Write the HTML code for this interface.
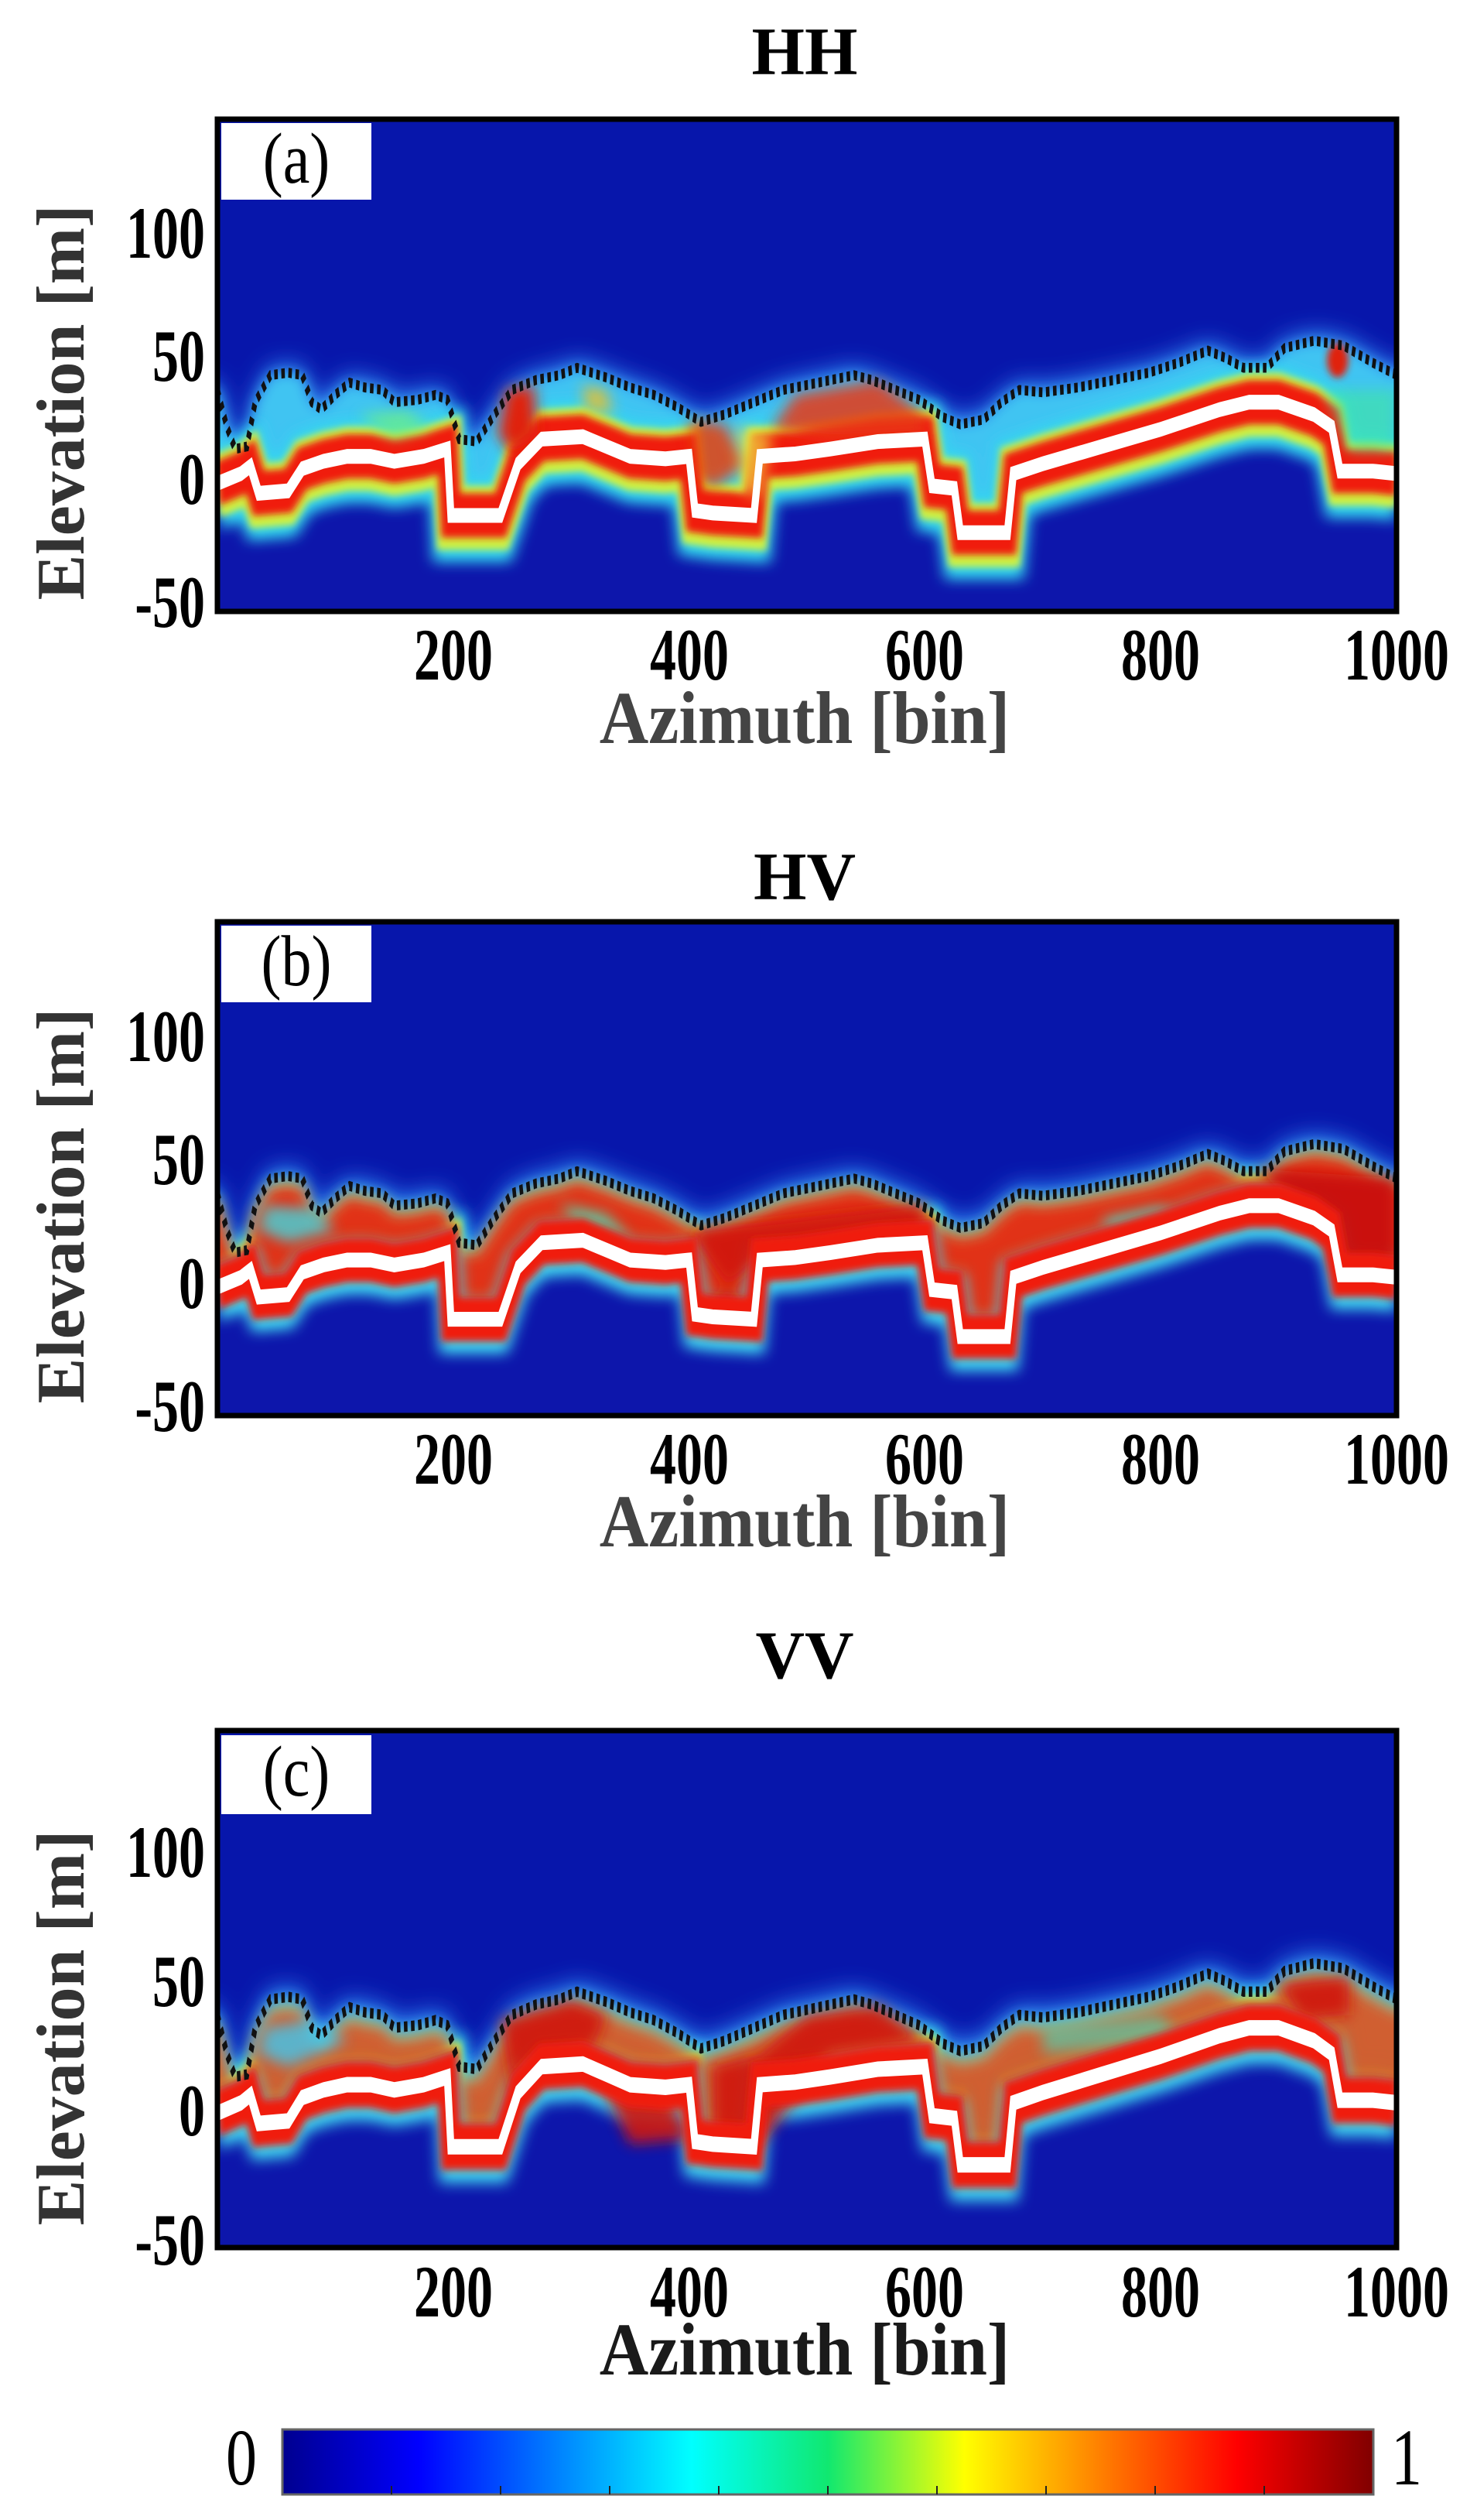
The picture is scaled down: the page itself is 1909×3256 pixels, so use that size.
<!DOCTYPE html>
<html><head><meta charset="utf-8"><style>
html,body{margin:0;padding:0;background:#fff}
svg{display:block}
text{font-family:"Liberation Serif",serif}
</style></head><body>
<svg width="1909" height="3256" viewBox="0 0 1909 3256" xmlns="http://www.w3.org/2000/svg">
<defs>
<clipPath id="clip"><rect x="0" y="-50" width="1000" height="200"/></clipPath>
<filter id="b1" filterUnits="userSpaceOnUse" x="-100" y="-120" width="1200" height="320"><feGaussianBlur stdDeviation="10 4.5"/></filter>
<filter id="b2" filterUnits="userSpaceOnUse" x="-100" y="-120" width="1200" height="320"><feGaussianBlur stdDeviation="6 2.7"/></filter>
<filter id="b3" filterUnits="userSpaceOnUse" x="-100" y="-120" width="1200" height="320"><feGaussianBlur stdDeviation="3 1.4"/></filter>
<polyline id="C" points="0,40 8,25 15,16 25,17 32,35 45,46 60,47 72,46 80,35 88,32 100,38 112,43 125,41 140,40 150,35 170,36 185,38 195,36 205,20 220,19 235,30 250,40 270,44 290,46 305,49 330,45 350,41 370,38 390,33 410,27 430,30 450,34 480,40 510,43 540,46 555,44 575,40 595,36 615,29 630,26 650,28 665,35 680,40 700,39 730,41 760,44 790,47 815,51 840,56 855,53 870,49 890,49 905,57 930,60 955,58 980,51 1000,46"/>
<polyline id="G" points="0,2 20,6 28,9 35,-2 60,-1 72,8 90,11 110,13 130,13 150,11 175,13 195,16 198,-11 240,-11 255,10 275,20 310,21 330,17 350,13 380,12 400,13 405,-9 420,-10 455,-11 460,13 490,14 520,16 560,19 600,20 606,1 625,0 630,-18 670,-18 675,6 700,10 750,17 800,24 850,32 875,35 900,35 930,30 945,25 952,7 980,7 1000,6"/>
<polygon id="Cf" points="-20,40 0,40 8,25 15,16 25,17 32,35 45,46 60,47 72,46 80,35 88,32 100,38 112,43 125,41 140,40 150,35 170,36 185,38 195,36 205,20 220,19 235,30 250,40 270,44 290,46 305,49 330,45 350,41 370,38 390,33 410,27 430,30 450,34 480,40 510,43 540,46 555,44 575,40 595,36 615,29 630,26 650,28 665,35 680,40 700,39 730,41 760,44 790,47 815,51 840,56 855,53 870,49 890,49 905,57 930,60 955,58 980,51 1000,46 1020,46 1020,-80 -20,-80"/>
<polygon id="Gf" points="-20,2 0,2 20,6 28,9 35,-2 60,-1 72,8 90,11 110,13 130,13 150,11 175,13 195,16 198,-11 240,-11 255,10 275,20 310,21 330,17 350,13 380,12 400,13 405,-9 420,-10 455,-11 460,13 490,14 520,16 560,19 600,20 606,1 625,0 630,-18 670,-18 675,6 700,10 750,17 800,24 850,32 875,35 900,35 930,30 945,25 952,7 980,7 1000,6 1020,6 1020,-80 -20,-80"/>
<g id="base">
  <rect x="-10" y="-60" width="1020" height="220" fill="#0716ab"/>
  <use href="#Cf" transform="translate(0,4)" fill="#2f80f0" filter="url(#b1)"/>
  <use href="#Cf" fill="#40c4f2" filter="url(#b2)"/>
  <use href="#Gf" transform="translate(0,-8)" fill="#0716ab" filter="url(#b1)"/>
</g>
<g id="halo">
  <use href="#G" transform="translate(0,-2)" fill="none" stroke="#30d8f0" stroke-width="34" vector-effect="non-scaling-stroke" filter="url(#b2)"/>
  <use href="#G" transform="translate(0,-1)" fill="none" stroke="#d0f040" stroke-width="26" vector-effect="non-scaling-stroke" filter="url(#b3)"/>
  <use href="#G" fill="none" stroke="#f01a10" stroke-width="18" vector-effect="non-scaling-stroke" filter="url(#b3)"/>
</g>
<g id="lines">
  <use href="#G" fill="none" stroke="#ffffff" stroke-width="6" vector-effect="non-scaling-stroke"/>
  <use href="#C" fill="none" stroke="#111" stroke-width="4" stroke-dasharray="3 3" vector-effect="non-scaling-stroke"/>
</g>
<linearGradient id="jet" x1="0" x2="1" y1="0" y2="0">
<stop offset="0" stop-color="#00008f"/><stop offset="0.125" stop-color="#0000ff"/><stop offset="0.375" stop-color="#00ffff"/><stop offset="0.5" stop-color="#10e870"/><stop offset="0.625" stop-color="#ffff00"/><stop offset="0.875" stop-color="#ff0000"/><stop offset="1" stop-color="#800000"/>
</linearGradient>
</defs>

<!-- Panel 1 HH -->
<text x="1040" y="96" font-size="88" font-weight="bold" text-anchor="middle">HH</text>
<g transform="translate(281,790) scale(1.524,-3.18) translate(0,50)" clip-path="url(#clip)">
  <use href="#base"/>
  <use href="#halo"/>
  <polygon points="120,30 160,32 180,25 150,20" fill="#70f080" opacity="0.7" filter="url(#b2)"/>
  <polygon points="245,40 268,42 272,22 250,14 238,22" fill="#e02010" filter="url(#b2)"/>
  <polygon points="310,42 330,40 335,30 312,32" fill="#f0c020" opacity="0.8" filter="url(#b2)"/>
  <polygon points="490,38 560,44 600,30 600,22 520,20 470,24" fill="#e83818" opacity="0.85" filter="url(#b2)"/>
  <polygon points="400,28 430,26 450,10 420,0 405,5" fill="#e84010" opacity="0.85" filter="url(#b2)"/>
  <polygon points="440,25 470,22 460,-5 445,0" fill="#f0e040" opacity="0.7" filter="url(#b2)"/>
  <ellipse cx="950" cy="52" rx="9" ry="7" fill="#e02010" filter="url(#b3)"/>
  <polygon points="940,40 1000,40 1000,15 960,15" fill="#40e8a0" opacity="0.6" filter="url(#b2)"/>
  <use href="#lines"/>
</g>
<rect x="281" y="154" width="1524" height="636" fill="none" stroke="#000" stroke-width="7"/>
<rect x="286" y="159" width="194" height="99" fill="#fff"/>
<text transform="translate(383,236) scale(1,1.2)" font-size="78" text-anchor="middle">(a)</text>
<g font-size="68" font-weight="bold" text-anchor="end">
<text transform="translate(265,333) scale(1,1.4)">100</text><text transform="translate(265,492) scale(1,1.4)">50</text><text transform="translate(265,651) scale(1,1.4)">0</text><text transform="translate(265,810) scale(1,1.4)">-50</text></g>
<g font-size="68" font-weight="bold" text-anchor="middle">
<text transform="translate(586,878) scale(1,1.4)">200</text><text transform="translate(891,878) scale(1,1.4)">400</text><text transform="translate(1195,878) scale(1,1.4)">600</text><text transform="translate(1500,878) scale(1,1.4)">800</text><text transform="translate(1805,878) scale(1,1.4)">1000</text></g>
<text transform="translate(1040,960) scale(1,1.1)" font-size="88" font-weight="bold" fill="#444" text-anchor="middle">Azimuth [bin]</text>
<text transform="translate(108,520) rotate(-90)" font-size="88" font-weight="bold" fill="#333" text-anchor="middle">Elevation [m]</text>

<!-- Panel 2 HV -->
<text x="1040" y="1162" font-size="88" font-weight="bold" text-anchor="middle">HV</text>
<g transform="translate(281,1829) scale(1.524,-3.19) translate(0,50)" clip-path="url(#clip)">
  <use href="#base"/>
  <use href="#halo"/>
  <use href="#Cf" transform="translate(0,-2)" fill="#f0d020" opacity="0.6" filter="url(#b2)"/>
  <use href="#Cf" transform="translate(0,-4)" fill="#e82010" opacity="0.9" filter="url(#b2)"/>
  <use href="#Gf" transform="translate(0,-5)" fill="#0716ab" filter="url(#b2)"/>
  <use href="#G" transform="translate(0,-3)" fill="none" stroke="#40d8f0" stroke-width="22" vector-effect="non-scaling-stroke" filter="url(#b2)"/>
  <polygon points="40,35 80,34 100,25 60,20 35,25" fill="#40d8e0" opacity="0.8" filter="url(#b2)"/>
  <polygon points="290,36 330,32 350,22 310,24" fill="#40e8c0" opacity="0.7" filter="url(#b2)"/>
  <polygon points="750,30 800,35 820,28 760,22" fill="#40e0d0" opacity="0.7" filter="url(#b2)"/>
  <polygon points="400,25 600,36 600,22 460,14 410,-8 450,-10" fill="#d01808" opacity="0.9" filter="url(#b2)"/>
  <polygon points="880,50 1000,46 1000,10 950,10 930,30" fill="#c81008" opacity="0.9" filter="url(#b2)"/>
  <use href="#G" fill="none" stroke="#f01a10" stroke-width="18" vector-effect="non-scaling-stroke" filter="url(#b3)"/>
  <use href="#lines"/>
</g>
<rect x="281" y="1191" width="1524" height="638" fill="none" stroke="#000" stroke-width="7"/>
<rect x="286" y="1196" width="194" height="99" fill="#fff"/>
<text transform="translate(383,1273) scale(1,1.2)" font-size="78" text-anchor="middle">(b)</text>
<g font-size="68" font-weight="bold" text-anchor="end">
<text transform="translate(265,1371) scale(1,1.4)">100</text><text transform="translate(265,1530) scale(1,1.4)">50</text><text transform="translate(265,1690) scale(1,1.4)">0</text><text transform="translate(265,1849) scale(1,1.4)">-50</text></g>
<g font-size="68" font-weight="bold" text-anchor="middle">
<text transform="translate(586,1917) scale(1,1.4)">200</text><text transform="translate(891,1917) scale(1,1.4)">400</text><text transform="translate(1195,1917) scale(1,1.4)">600</text><text transform="translate(1500,1917) scale(1,1.4)">800</text><text transform="translate(1805,1917) scale(1,1.4)">1000</text></g>
<text transform="translate(1040,1998) scale(1,1.1)" font-size="88" font-weight="bold" fill="#444" text-anchor="middle">Azimuth [bin]</text>
<text transform="translate(108,1558) rotate(-90)" font-size="88" font-weight="bold" fill="#333" text-anchor="middle">Elevation [m]</text>

<!-- Panel 3 VV -->
<text x="1040" y="2168" font-size="88" font-weight="bold" text-anchor="middle">VV</text>
<g transform="translate(281,2904) scale(1.524,-3.34) translate(0,50)" clip-path="url(#clip)">
  <use href="#base"/>
  <use href="#halo"/>
  <use href="#Cf" transform="translate(0,-3)" fill="#f0d020" opacity="0.5" filter="url(#b2)"/>
  <use href="#Cf" transform="translate(0,-5)" fill="#e83010" opacity="0.7" filter="url(#b2)"/>
  <use href="#Gf" transform="translate(0,-5)" fill="#0716ab" filter="url(#b2)"/>
  <use href="#G" transform="translate(0,-3)" fill="none" stroke="#40d8f0" stroke-width="22" vector-effect="non-scaling-stroke" filter="url(#b2)"/>
  <polygon points="40,35 80,38 110,30 60,20 35,25" fill="#40c8f0" opacity="0.8" filter="url(#b2)"/>
  <polygon points="700,35 800,40 820,30 700,25" fill="#40e0c0" opacity="0.6" filter="url(#b2)"/>
  <polygon points="240,38 300,46 330,40 320,28 260,20 250,8" fill="#d01808" opacity="0.9" filter="url(#b2)"/>
  <polygon points="330,10 380,12 400,-8 350,-10" fill="#d01808" opacity="0.9" filter="url(#b2)"/>
  <polygon points="420,20 460,25 500,40 560,44 600,30 520,25 460,-10 420,-10" fill="#d01808" opacity="0.9" filter="url(#b2)"/>
  <polygon points="900,52 960,55 960,40 920,38" fill="#d01808" opacity="0.9" filter="url(#b2)"/>
  <use href="#G" fill="none" stroke="#f01a10" stroke-width="18" vector-effect="non-scaling-stroke" filter="url(#b3)"/>
  <use href="#lines"/>
</g>
<rect x="281" y="2236" width="1524" height="668" fill="none" stroke="#000" stroke-width="7"/>
<rect x="286" y="2242" width="194" height="102" fill="#fff"/>
<text transform="translate(383,2320) scale(1,1.2)" font-size="78" text-anchor="middle">(c)</text>
<g font-size="68" font-weight="bold" text-anchor="end">
<text transform="translate(265,2425) scale(1,1.4)">100</text><text transform="translate(265,2592) scale(1,1.4)">50</text><text transform="translate(265,2759) scale(1,1.4)">0</text><text transform="translate(265,2926) scale(1,1.4)">-50</text></g>
<g font-size="68" font-weight="bold" text-anchor="middle">
<text transform="translate(586,2993) scale(1,1.4)">200</text><text transform="translate(891,2993) scale(1,1.4)">400</text><text transform="translate(1195,2993) scale(1,1.4)">600</text><text transform="translate(1500,2993) scale(1,1.4)">800</text><text transform="translate(1805,2993) scale(1,1.4)">1000</text></g>
<text transform="translate(1040,3068) scale(1,1.1)" font-size="88" font-weight="bold" fill="#1a1a1a" text-anchor="middle">Azimuth [bin]</text>
<text transform="translate(108,2620) rotate(-90)" font-size="88" font-weight="bold" fill="#333" text-anchor="middle">Elevation [m]</text>

<!-- Colorbar -->
<rect x="365" y="3139" width="1410" height="84" fill="url(#jet)" stroke="#666" stroke-width="3"/>
<g stroke="#222" stroke-width="2">
<line x1="506" y1="3223" x2="506" y2="3212"/><line x1="647" y1="3223" x2="647" y2="3212"/><line x1="788" y1="3223" x2="788" y2="3212"/><line x1="929" y1="3223" x2="929" y2="3212"/><line x1="1070" y1="3223" x2="1070" y2="3212"/><line x1="1211" y1="3223" x2="1211" y2="3212"/><line x1="1352" y1="3223" x2="1352" y2="3212"/><line x1="1493" y1="3223" x2="1493" y2="3212"/><line x1="1634" y1="3223" x2="1634" y2="3212"/>
</g>
<text transform="translate(312,3210) scale(1,1.3)" font-size="80" text-anchor="middle">0</text>
<text transform="translate(1818,3210) scale(1,1.3)" font-size="80" text-anchor="middle">1</text>
</svg>
</body></html>
